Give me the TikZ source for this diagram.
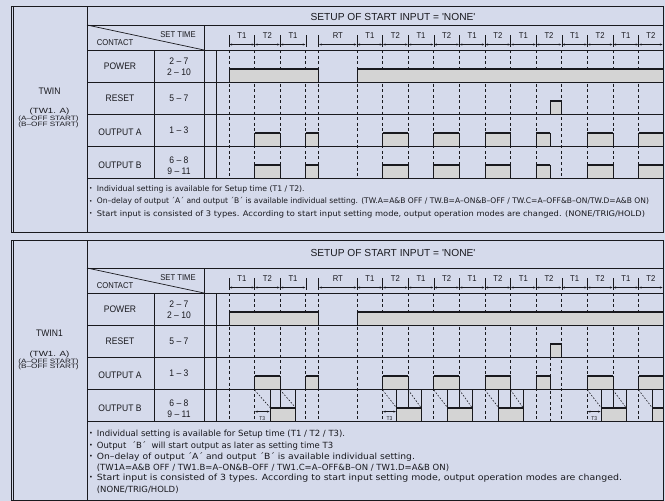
\documentclass[tikz,border=0pt]{standalone}
\usepackage{fontspec}
\usepackage{graphicx}
\setmainfont{Liberation Sans}
\newfontfamily\labfont[FakeStretch=0.9]{Liberation Sans}
\newfontfamily\widefont[FakeStretch=1.3]{Liberation Sans}
\newfontfamily\notefont{DejaVu Sans}
\usetikzlibrary{arrows.meta}
\definecolor{bg}{RGB}{213,218,235}
\definecolor{boxgray}{RGB}{212,212,212}
\definecolor{ink}{RGB}{25,25,30}
\newcommand\bul{\makebox[7.7pt][l]{\raisebox{0.2ex}{\scalebox{0.75}{•}}}}
\newcommand\fitline[2]{\resizebox{#1pt}{\height}{#2}}
\newcommand\pulse[3]{%
  \fill[boxgray] (#1,#3-13) rectangle (#2,#3);
  \draw[grid] (#1,#3) -- (#1,#3-13);
  \draw[grid] (#2,#3) -- (#2,#3-13);
  \draw[ink,line width=1.8pt] (#1,#3-13) -- (#2,#3-13);}
\newcommand\tablebody[1]{%
  % dashed boundaries and header ticks
  \foreach \x in {229,254.6,280.2,305.8,318.7,357,382.6,408.2,433.8,459.4,485,510.6,536.2,561.8,587.4,613,638.6}
    {\draw[dline] (\x,50) -- (\x,178);
     \draw[tick] (\x,35) -- (\x,47);}
  % header dimension arrows and labels
  \foreach \a/\b/\t [count=\i] in {229/254.6/T1,254.6/280.2/T2,280.2/305.8/T1,318.7/357/RT,357/382.6/T1,382.6/408.2/T2,408.2/433.8/T1,433.8/459.4/T2,459.4/485/T1,485/510.6/T2,510.6/536.2/T1,536.2/561.8/T2,561.8/587.4/T1,587.4/613/T2,613/638.6/T1,638.6/663/T2}
    {\draw[dim] (\a+0.4,44.5) -- (\b-0.4,44.5);
     \node[tlab] (#1h\i) at ({(\a+\b)/2},35.5) {\t};}
  % power
  \pulse{229}{318.7}{82}
  \pulse{357}{663}{82}
  % reset
  \pulse{550}{561.8}{114}
  % output A
  \foreach \a/\b in {254.6/280.2,305.8/318.7,382.6/408.2,433.8/459.4,485/510.6,536.2/550,587.4/613,638.6/663}
    {\pulse{\a}{\b}{146}}
  % grid
  \foreach \y in {25,50,82,114,146,178} {\draw[grid] (87,\y) -- (663,\y);}
  \draw[grid] (154,50) -- (154,178);
  \draw[grid] (204,25) -- (204,178);
  \draw[grid] (216,50) -- (216,178);
  \draw[grid] (87,25) -- (204,50);
  \node[small] (#1st) at (178,34.5) {SET TIME};
  \node[small] (#1ct) at (115,43) {CONTACT};
  \node[lab] (#1pw) at (120,66.7) {POWER};
  \node[lab] (#1rs) at (120,98) {RESET};
  \node[lab] (#1oa) at (120,132.5) {OUTPUT A};
  \node[lab] (#1ob) at (120,165.5) {OUTPUT B};
  \node[lab] (#1s1) at (179,61.3) {2 – 7};
  \node[lab] (#1s2) at (179,72.2) {2 – 10};
  \node[lab] (#1s3) at (179,98) {5 – 7};
  \node[lab] (#1s4) at (179,130) {1 – 3};
  \node[lab] (#1s5) at (179,160.3) {6 – 8};
  \node[lab] (#1s6) at (179,171.3) {9 – 11};
}
\begin{document}
\begin{tikzpicture}[x=1pt,y=-1pt,line cap=butt,
  frame/.style={ink,line width=1pt},
  grid/.style={ink,line width=0.7pt},
  dline/.style={ink,line width=0.8pt,dash pattern=on 3pt off 2.6pt},
  tick/.style={ink,line width=0.6pt},
  diag/.style={ink,line width=0.6pt,dash pattern=on 1.6pt off 1.6pt},
  dim/.style={ink,line width=0.5pt,{Stealth[length=2.6pt,width=2pt]}-{Stealth[length=2.6pt,width=2pt]}},
  tlab/.style={font={\labfont\fontsize{8.5}{9}\selectfont},inner sep=0pt,text=ink},
  lab/.style={font={\labfont\fontsize{9.5}{10}\selectfont},inner sep=0pt,text=ink},
  small/.style={font={\labfont\fontsize{8.5}{9}\selectfont},inner sep=0pt,text=ink},
  title/.style={font={\fontsize{10.2}{11}\selectfont},inner sep=0pt,text=ink},
  side/.style={font={\labfont\fontsize{9.5}{10}\selectfont},inner sep=0pt,text=ink},
  tiny/.style={font={\widefont\fontsize{6.3}{7}\selectfont},inner sep=0pt,text=ink},
  mid/.style={font={\widefont\fontsize{7.5}{8}\selectfont},inner sep=0pt,text=ink},
  noteA/.style={font={\notefont\fontsize{7.7}{9}\selectfont},inner sep=0pt,anchor=west,text=ink},
  noteB/.style={font={\notefont\fontsize{8.5}{10}\selectfont},inner sep=0pt,anchor=west,text=ink},
  t3/.style={font={\labfont\fontsize{5.5}{6}\selectfont},inner sep=0pt,text=ink}]
\useasboundingbox (0,0) rectangle (665,501);
\fill[bg] (0,0) rectangle (665,501);

% ---------- table 1 ----------
\tablebody{a}
\foreach \a/\b in {254.6/280.2,305.8/318.7,382.6/408.2,433.8/459.4,485/510.6,536.2/550,587.4/613,638.6/663}
  {\pulse{\a}{\b}{178}}
\draw[frame] (11,6) -- (11,232);
\draw[frame] (13.6,6) -- (13.6,232);
\draw[frame] (11,6) -- (663,6) -- (663,232) -- (11,232);
\draw[grid] (87,6) -- (87,232);
\node[title] (ttl1) at (393,16.5) {SETUP OF START INPUT = \textquotesingle NONE\textquotesingle};
\node[side] (tw1) at (49.5,91) {TWIN};
\node[mid] (tw1a) at (49.5,111.8) {(TW1. A)};
\node[tiny] (tw1b) at (48.5,119.2) {(A–OFF START)};
\node[tiny] (tw1c) at (48.5,124.6) {(B–OFF START)};
\node[noteA] (n11) at (89,189.5) {\bul Individual setting is available for Setup time (T1 / T2).};
\node[noteA] (n12) at (89,201.7) {\bul\fitline{552}{On–delay of output ´A´ and output ´B´ is available individual setting. (TW.A=A\&B OFF / TW.B=A–ON\&B–OFF / TW.C=A–OFF\&B–ON/TW.D=A\&B ON)}};
\node[noteA] (n13) at (89,213.9) {\bul\fitline{548}{Start input is consisted of 3 types. According to start input setting mode, output operation modes are changed. (NONE/TRIG/HOLD)}};

% ---------- table 2 ----------
\begin{scope}[yshift=-243pt]
\tablebody{b}
\draw[dline] (550,114) -- (550,178);
\foreach \a/\b in {270/295.5,396.3/421,447.5/472,498.5/523,601/626,652/663}
  {\pulse{\a}{\b}{178}
   \draw[grid] (\a,146) -- (\a,165);
   \draw[grid] (\b,146) -- (\b,165);}
\foreach \x in {280.2,408.2,459.4,510.6,613}
  {\draw[grid] (\x,146) -- (\x,165);}
\foreach \a/\b in {254.6/270,280.2/295.5,382.6/396.3,408.2/421,433.8/447.5,459.4/472,485/498.5,510.6/523,587.4/601,613/626,638.6/652}
  {\draw[diag] (\a,147) -- (\b,164.5);}
\foreach \a/\b [count=\i] in {254.6/270,382.6/396.3,587.4/601}
  {\draw[dim] (\a+0.4,168.6) -- (\b-0.4,168.6);
   \node[t3] (t3n\i) at ({(\a+\b)/2},175.3) {T3};}
\end{scope}
\draw[frame] (11,240) -- (11,501);
\draw[frame] (13.6,240) -- (13.6,501);
\draw[frame] (11,240) -- (663,240) -- (663,501);
\draw[frame] (11,500.5) -- (663,500.5);
\draw[grid] (87,240) -- (87,501);
\node[title] (ttl2) at (393,252.5) {SETUP OF START INPUT = \textquotesingle NONE\textquotesingle};
\node[side] (tw2) at (49.5,333) {TWIN1};
\node[mid] (tw2a) at (49.5,354.8) {(TW1. A)};
\node[tiny] (tw2b) at (48.5,361.8) {(A–OFF START)};
\node[tiny] (tw2c) at (48.5,367.2) {(B–OFF START)};
\node[noteB] (n21) at (89,434.5) {\bul Individual setting is available for Setup time (T1 / T2 / T3).};
\node[noteB] (n22) at (89,445.5) {\bul Output \ ´B´ \ will start output as later as setting time T3};
\node[noteB] (n23) at (89,456.5) {\bul\fitline{318}{On–delay of output ´A´ and output ´B´ is available individual setting.}};
\node[noteB] (n24) at (96.7,467.5) {(TW1A=A\&B OFF / TW1.B=A–ON\&B–OFF / TW1.C=A–OFF\&B–ON / TW1.D=A\&B ON)};
\node[noteB] (n25) at (89,478.5) {\bul\fitline{525}{Start input is consisted of 3 types. According to start input setting mode, output operation modes are changed.}};
\node[noteB] (n26) at (96.7,489.5) {(NONE/TRIG/HOLD)};
\end{tikzpicture}
\end{document}
